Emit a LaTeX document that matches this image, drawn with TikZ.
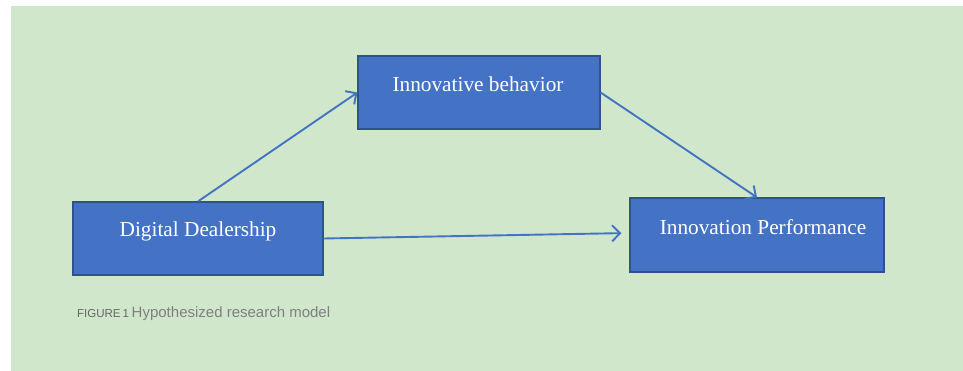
\documentclass[tikz,border=0pt]{standalone}
\usepackage{fontspec}
\setmainfont{Liberation Serif}
\newfontfamily\captionfont{Liberation Sans}
\usetikzlibrary{arrows.meta}
\definecolor{bggreen}{HTML}{D0E7CB}
\definecolor{boxblue}{HTML}{4472C4}
\definecolor{boxedge}{HTML}{2F528F}
\definecolor{captgray}{HTML}{7F7F7F}
\definecolor{captdark}{HTML}{666666}
\tikzset{
  varbox/.style={draw=boxedge, line width=1.2pt, fill=boxblue, inner sep=0pt},
  varlabel/.style={text=white, font=\fontsize{21.3}{25}\selectfont, inner sep=0pt},
  link/.style={draw=boxblue, line width=1.9pt,
    -{Straight Barb[length=8pt,width=16pt,line width=1.9pt]}}
}
\begin{document}
\begin{tikzpicture}[x=1pt,y=-1pt]
  \useasboundingbox (0,0) rectangle (963,371);
  \fill[bggreen] (11,6) rectangle (963,371);

  % variable boxes
  \node[varbox, minimum width=242pt, minimum height=73pt] (ib) at (479,92.5) {};
  \node[varbox, minimum width=250pt, minimum height=73pt] (dd) at (198,238.5) {};
  \node[varbox, minimum width=254pt, minimum height=74pt] (ip) at (757,235) {};

  \node[varlabel] (ibt) at (478,84) {Innovative behavior};
  \node[varlabel] (ddt) at (198,231) {Digital Dealership};
  \node[varlabel] (ipt) at (763,227) {Innovation Performance};

  % hypothesised paths
  \draw[link] (dd.north) -- (ib.west);
  \draw[link] (ib.east) -- (ip.north);
  \draw[link, shorten >=8pt] (dd.east) -- (ip.west |- 0,233);

  % caption
  \node[anchor=base west, inner sep=0pt] (cap) at (77,317)
    {\captionfont{\fontsize{11.5}{13}\selectfont\color{captdark}FIGURE\,1} {\fontsize{15}{18}\selectfont\color{captgray}Hypothesized research model}};
\end{tikzpicture}
\end{document}
